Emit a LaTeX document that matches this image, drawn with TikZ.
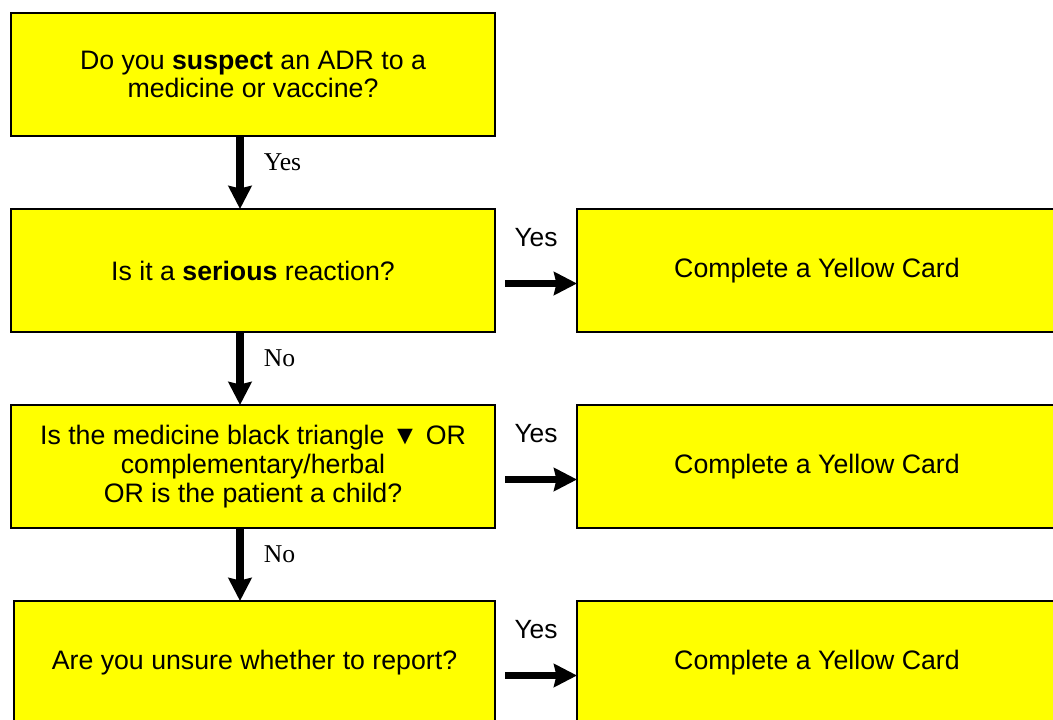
\documentclass[tikz,border=0pt]{standalone}
\usepackage{fontspec}
\setmainfont{Liberation Sans}
\newfontfamily\arrowlblfont{Liberation Serif}
\usepackage{xcolor}
\usepackage{tikz}
\usetikzlibrary{arrows.meta, positioning, calc}
\definecolor{cardyellow}{RGB}{255,255,0}
\tikzset{qbox/.style={rectangle,draw=black,line width=1.1pt,fill=cardyellow,align=center,minimum width=9.68cm,minimum height=2.46cm,inner sep=0pt,outer sep=0pt,font=\fontsize{15.2}{16.4}\selectfont},
         cardbox/.style={qbox,minimum width=9.6cm},
         arrow/.style={-{Stealth[length=0.46cm,width=0.46cm,inset=0.05cm]},line width=0.155cm},
         flowlbl/.style={inner sep=0pt,font=\arrowlblfont\fontsize{14.6}{16}\selectfont},
         yeslbl/.style={inner sep=0pt,font=\fontsize{15}{16}\selectfont}}
\begin{document}
\begin{tikzpicture}[node distance=1.46cm]
    \useasboundingbox (0,0) rectangle (21.06,-14.4);
    \clip (0,0) rectangle (21.06,-14.4);
    \node (q1) [qbox, anchor=north west] at (0.22,-0.26) {Do you \textbf{suspect} an ADR to a\\medicine or vaccine?};
    \node (q2) [qbox, below=of q1] {Is it a \textbf{serious} reaction?};
    \node (q3) [qbox, below=of q2] {Is the medicine black triangle ▼ OR\\complementary/herbal\\OR is the patient a child?};
    \node (q4) [qbox, below=of q3.south east, anchor=north east, minimum width=9.62cm] {Are you unsure whether to report?};
    \node (c2) [cardbox, right=1.64cm of q2] {Complete a Yellow Card};
    \node (c3) [cardbox, right=1.64cm of q3] {Complete a Yellow Card};
    \node (c4) [cardbox, below=of c3] {Complete a Yellow Card};
    % down the left column
    \draw[arrow] ([xshift=-0.26cm]q1.south) -- node[flowlbl, pos=0.36, anchor=west, xshift=0.4cm] {Yes} ([xshift=-0.26cm]q2.north);
    \draw[arrow] ([xshift=-0.26cm]q2.south) -- node[flowlbl, pos=0.36, anchor=west, xshift=0.4cm] {No} ([xshift=-0.26cm]q3.north);
    \draw[arrow] ([xshift=-0.26cm]q3.south) -- node[flowlbl, pos=0.36, anchor=west, xshift=0.4cm] {No} ([xshift=-0.26cm]q3.south |- q4.north);
    % across to the yellow cards
    \foreach \q/\c in {q2/c2,q3/c3,q4/c4} {\draw[arrow] ([xshift=0.2cm,yshift=-0.26cm]\q.east) -- node[yeslbl, midway, xshift=-0.1cm, yshift=0.92cm] {Yes} ([yshift=-0.26cm]\c.west);}
\end{tikzpicture}
\end{document}
